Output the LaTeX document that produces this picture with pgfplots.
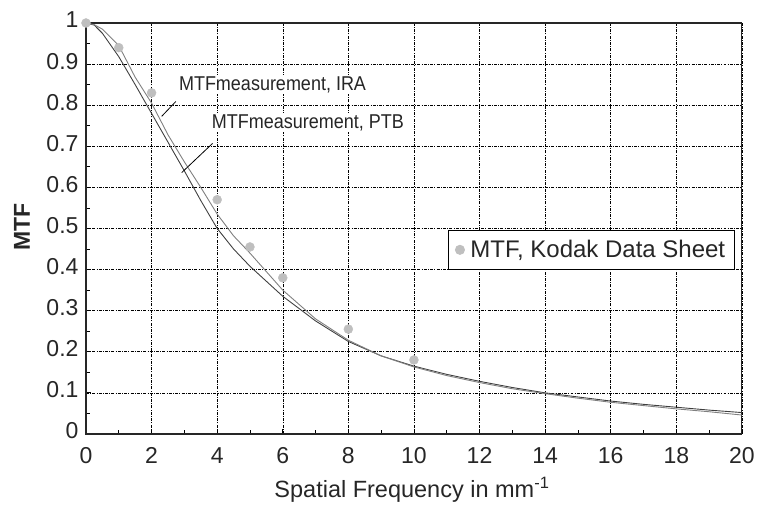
\documentclass[border=0pt]{standalone}
\usepackage{pgfplots}
\pgfplotsset{compat=1.18}
\usepackage{fontspec}
\setmainfont{Liberation Sans}
\newfontfamily\narrowfont[FakeStretch=0.9]{Liberation Sans}
\begin{document}
\begin{tikzpicture}
\begin{axis}[
  scale only axis, width=656bp, height=411bp,
  xmin=0, xmax=20, ymin=0, ymax=1, clip=false,
  xtick={0,2,4,6,8,10,12,14,16,18,20},
  ytick={0,0.1,0.2,0.3,0.4,0.5,0.6,0.7,0.8,0.9,1},
  yticklabels={0,0.1,0.2,0.3,0.4,0.5,0.6,0.7,0.8,0.9,1},
  minor x tick num=1, minor y tick num=1,
  tick pos=left, tick align=inside,
  major tick length=5bp, minor tick length=4bp,
  every tick/.style={black, line width=0.8pt},
  grid=major,
  major grid style={black, line width=0.5pt, dash pattern=on 3pt off 1.2pt on 1pt off 1.2pt},
  axis line style={line width=1.2pt, black!85},
  /pgf/number format/assume math mode=true,
  tick label style={font=\fontsize{23bp}{27bp}\selectfont, text=black!85},
  xticklabel style={yshift=-10bp},
  yticklabel style={xshift=-4bp, yshift=3bp},
  legend style={at={(axis description cs:0.989,0.448)}, anchor=east, draw=black, line width=1pt,
    font=\fontsize{24bp}{28bp}\selectfont, inner xsep=7bp, inner ysep=8bp, text=black!85},
  legend cell align=left,
]
% PTB (darker)
\addplot[black!75, line width=0.9pt, forget plot] coordinates {
(0,1) (0.25,0.995) (0.5,0.975) (1,0.918) (1.5,0.85) (2,0.78) (2.5,0.71) (3,0.64)
(3.5,0.568) (4,0.5) (4.5,0.45) (5,0.408) (6,0.335) (7,0.275) (8,0.225) (9,0.19)
(10,0.165) (11,0.145) (12,0.128) (13,0.113) (14,0.1) (15,0.09) (16,0.08) (17,0.072)
(18,0.065) (19,0.058) (20,0.052)};
% IRA (lighter)
\addplot[black!50, line width=0.9pt, forget plot] coordinates {
(0,1) (0.25,0.996) (0.5,0.985) (1,0.945) (1.5,0.868) (2,0.805) (2.5,0.728) (3,0.662)
(3.5,0.6) (4,0.535) (4.5,0.482) (5,0.44) (6,0.35) (7,0.28) (8,0.228) (9,0.19)
(10,0.163) (11,0.142) (12,0.125) (13,0.11) (14,0.098) (15,0.087) (16,0.077) (17,0.069)
(18,0.061) (19,0.054) (20,0.046)};
% Kodak data sheet
\addplot[only marks, mark=*, mark size=4.5bp, mark options={fill=black!25, draw=black!25}] coordinates {
(0,1) (1,0.94) (2,0.83) (4,0.57) (5,0.455) (6,0.38) (8,0.255) (10,0.18)};
\addlegendentry{\hspace{4bp}MTF, Kodak Data Sheet}
\draw[black, line width=0.8pt] (axis cs:2.31,0.773) -- (axis cs:2.74,0.809);
\draw[black, line width=0.8pt] (axis cs:2.92,0.636) -- (axis cs:3.86,0.707);
\node[anchor=west, fill=white, inner sep=1bp, text=black!85, font=\narrowfont\fontsize{20bp}{24bp}\selectfont] at (axis cs:2.8,0.85) {MTFmeasurement, IRA};
\node[anchor=west, fill=white, inner sep=1bp, text=black!85, font=\narrowfont\fontsize{20bp}{24bp}\selectfont] at (axis cs:3.8,0.758) {MTFmeasurement, PTB};
% axis titles
\node[anchor=center, text=black!85, font=\fontsize{23.5bp}{26bp}\selectfont]
  at (axis cs:9.94,-0.136) {Spatial Frequency in mm\textsuperscript{-1}};
\node[anchor=center, rotate=90, text=black!85, font=\bfseries\fontsize{23bp}{26bp}\selectfont]
  at (axis cs:-1.95,0.504) {MTF};
\end{axis}
\path[use as bounding box] (-86bp,-70bp) rectangle (672bp,434bp);
\end{tikzpicture}
\end{document}
